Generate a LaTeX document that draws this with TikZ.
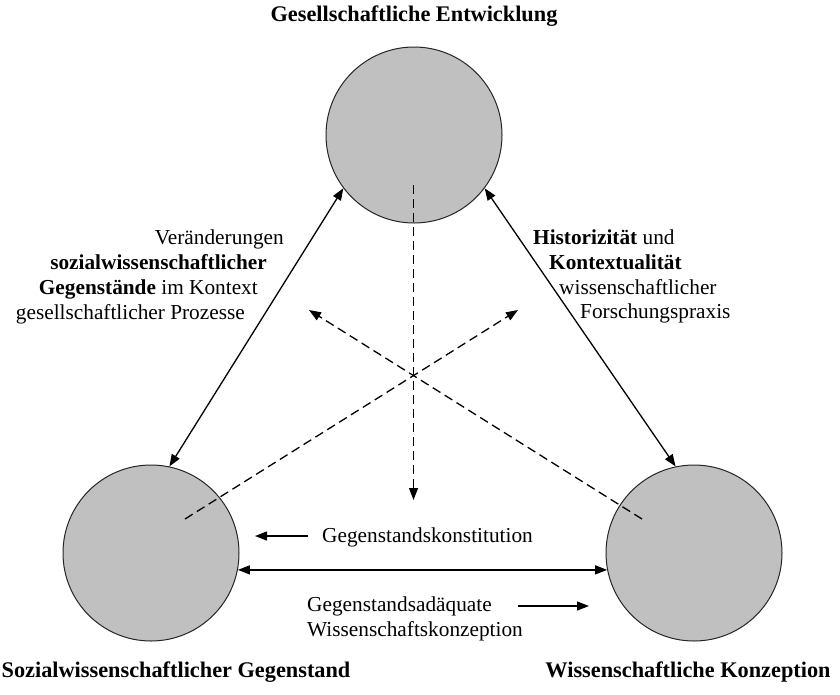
\documentclass[tikz,border=0pt]{standalone}
\usepackage{fontspec}
\setmainfont{Liberation Serif}
\usetikzlibrary{arrows.meta}
\definecolor{circgray}{RGB}{192,192,192}
\begin{document}
\begin{tikzpicture}[x=1pt,y=-1pt,
  circ/.style={circle,draw=black!85,line width=1pt,fill=circgray,minimum size=176pt,inner sep=0pt},
  solidarr/.style={line width=1.3pt,{Triangle[length=12pt,width=9pt]}-{Triangle[length=12pt,width=9pt]}},
  onearr/.style={line width=1.3pt,-{Triangle[length=12pt,width=9pt]}},
  dasharr/.style={line width=1.3pt,dash pattern=on 9pt off 5pt,-{Triangle[length=12pt,width=9pt]}},
  txt/.style={inner sep=0pt,font=\fontsize{21.3}{25}\selectfont},
  ttl/.style={inner sep=0pt,font=\fontsize{22.3}{26}\selectfont\bfseries}
]
\useasboundingbox (0,0) rectangle (840,694);

% circles
\node[circ] (T) at (414,135) {};
\node[circ] (L) at (151,553) {};
\node[circ] (R) at (694,553) {};

% titles
\node[ttl,anchor=mid] (tT) at (414,19) {Gesellschaftliche Entwicklung};
\node[ttl,anchor=mid] (tL) at (176,675) {Sozialwissenschaftlicher Gegenstand};
\node[ttl,anchor=mid] (tR) at (688,675) {Wissenschaftliche Konzeption};

% solid connectors
\draw[solidarr] (L.78) -- (T.217);
\draw[solidarr] (R.102) -- (T.323);
\draw[solidarr] (L.-11.7) -- (R.191.7);

% dashed connectors
\coordinate (dTs) at (413.5,185);
\coordinate (dTe) at (413.5,500);
\coordinate (dLs) at (185,519);
\coordinate (dLe) at (518,310);
\coordinate (dRs) at (642,519);
\coordinate (dRe) at (309,310);
\draw[dasharr] (dTs) -- (dTe);
\draw[dasharr] (dLs) -- (dLe);
\draw[dasharr] (dRs) -- (dRe);

% small arrows
\coordinate (a1s) at (308,536);
\coordinate (a1e) at (255,536);
\coordinate (a2s) at (518,606);
\coordinate (a2e) at (589,606);
\draw[onearr] (a1s) -- (a1e);
\draw[onearr] (a2s) -- (a2e);

% left label
\node[txt,anchor=mid east] (l1) at (284,242) {Veränderungen};
\node[txt,anchor=mid east] (l2) at (267,267) {\bfseries sozialwissenschaftlicher};
\node[txt,anchor=mid east] (l3) at (258,292) {\textbf{Gegenstände} im Kontext};
\node[txt,anchor=mid east] (l4) at (245,317) {gesellschaftlicher Prozesse};

% right label
\node[txt,anchor=mid west] (r1) at (533,242) {\textbf{Historizität} und};
\node[txt,anchor=mid west] (r2) at (549,267) {\bfseries Kontextualität};
\node[txt,anchor=mid west] (r3) at (559,292) {wissenschaftlicher};
\node[txt,anchor=mid west] (r4) at (580,316) {Forschungspraxis};

% bottom labels
\node[txt,anchor=mid west] (b1) at (322,540) {Gegenstandskonstitution};
\node[txt,anchor=mid west] (b2) at (307,609) {Gegenstandsadäquate};
\node[txt,anchor=mid west] (b3) at (307,634) {Wissenschaftskonzeption};
\end{tikzpicture}
\end{document}
